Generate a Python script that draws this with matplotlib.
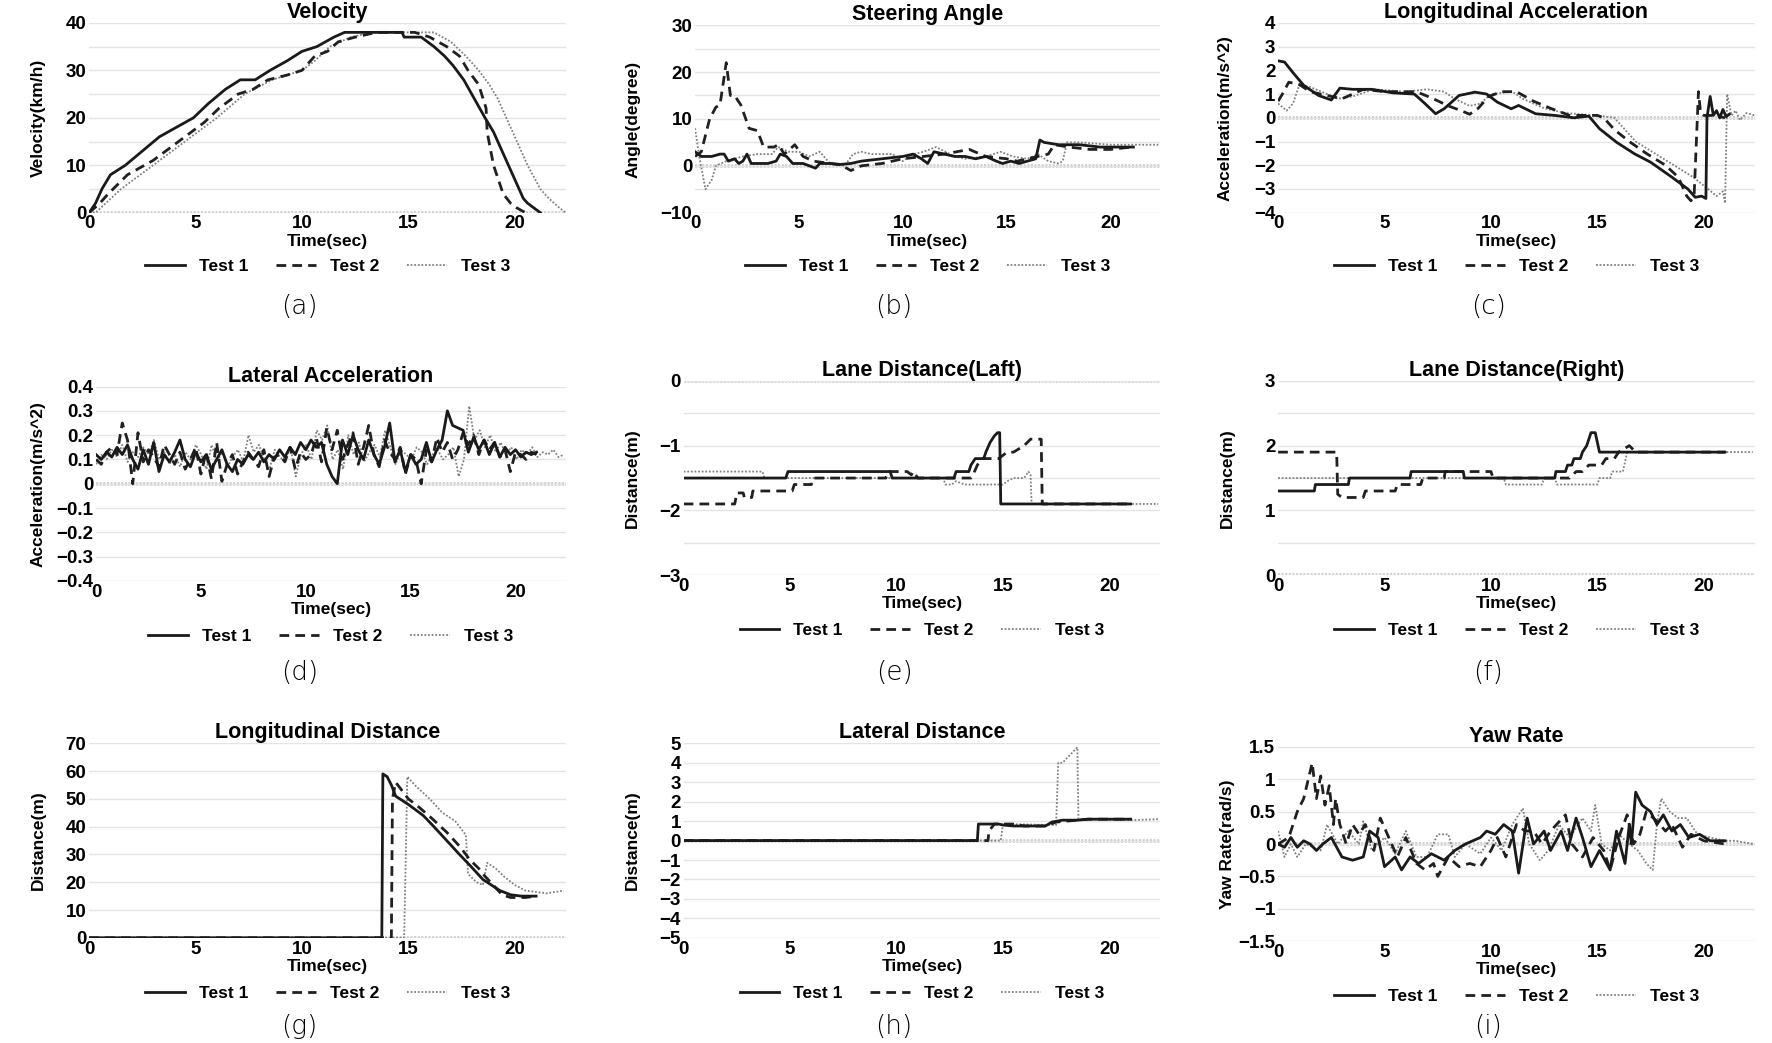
import matplotlib
matplotlib.use("Agg")
import matplotlib.pyplot as plt
import numpy as np
from matplotlib.ticker import MultipleLocator, FuncFormatter

plt.rcParams['font.family'] = ['Liberation Sans', 'DejaVu Sans']

# ---------------- data ----------------
# (a) Velocity
vel_t1_t = [0, 0.3, 0.6, 1.0, 1.7, 2.5, 3.3, 4.1, 4.9, 5.6, 6.4, 7.1, 7.8, 8.5, 9.3, 10.0, 10.7,
            11.5, 12.0, 14.7, 14.8, 15.6, 16.2, 16.7, 17.1, 17.6, 18.1, 18.6, 19.0, 19.4, 19.9,
            20.4, 20.6, 20.9, 21.2]
vel_t1 = [0, 2, 5, 8, 10, 13, 16, 18, 20, 23, 26, 28, 28, 30, 32, 34, 35, 37, 38, 38, 37, 37, 35,
          33, 31, 28, 24, 20, 17, 13, 8, 3, 2, 1, 0]
vel_t2_t = [0, 0.5, 0.9, 1.8, 3.0, 3.9, 4.8, 5.4, 6.1, 7.0, 7.7, 8.4, 9.3, 10.0, 10.6, 11.2, 11.7,
            12.5, 13.5, 15.3, 16.0, 16.8, 17.4, 17.8, 18.3, 18.65, 18.7, 19.0, 19.45, 19.8, 20.1, 20.5]
vel_t2 = [0, 2, 4, 8, 11, 14, 17, 19, 22, 25, 26, 28, 29, 30, 33, 34, 36, 37, 38, 38, 37, 35, 33,
          30, 27, 22, 17, 10, 4, 2, 1, 0]
vel_t3_t = [0, 0.3, 1.5, 3.0, 4.5, 6.0, 7.3, 8.6, 10.0, 10.6, 11.3, 12.3, 13.3, 16.2, 17.0, 17.7,
            18.3, 18.8, 19.2, 19.6, 20.1, 20.6, 21.2, 21.6, 22.1, 22.4]
vel_t3 = [0, 0, 5, 10, 15, 20, 25, 28, 30, 32, 35, 37, 38, 38, 36, 33, 30, 27, 24, 20, 15, 10, 5,
          3, 1, 0]

# (b) Steering angle
st_t1_t = [0, 0.3, 0.8, 1.2, 1.4, 1.6, 1.9, 2.1, 2.3, 2.5, 2.7, 3.5, 3.9, 4.1, 4.4, 4.7, 5.2, 5.5,
           5.8, 6.0, 6.5, 7.0, 7.5, 8.0, 9.0, 10.0, 10.5, 10.9, 11.2, 11.5, 12.0, 12.5, 13.0, 13.5,
           14.0, 14.5, 14.8, 15.2, 15.6, 16.0, 16.4, 16.6, 16.8, 17.5, 18.5, 19.5, 20.5, 21.1]
st_t1 = [3, 2, 2, 2.5, 2.5, 1, 1.5, 0.5, 1, 2.5, 0.5, 0.5, 1, 2.5, 2, 0.5, 0.5, 0, -0.5, 0.5,
         0.5, 0.3, 0.5, 1, 1.5, 2, 2.5, 1.5, 0.5, 3, 2.5, 2, 2, 1.5, 2, 1, 0.5, 1, 0.5, 1, 1.5,
         5.5, 5, 4.5, 4.5, 4, 4, 4]
st_t2_t = [0, 0.3, 0.7, 1.0, 1.2, 1.5, 1.7, 1.9, 2.2, 2.6, 3.0, 3.3, 3.8, 4.0, 4.3, 4.8, 5.2, 5.7,
           6.5, 7.0, 7.5, 8.0, 9.0, 9.5, 10.0, 11.0, 12.0, 13.2, 14.0, 15.0, 15.5, 16.5, 17.0,
           17.3, 18.0, 19.0, 20.0, 21.0]
st_t2 = [2, 3, 10, 12.5, 13, 22, 15, 15, 13, 8, 7.5, 4, 4, 4.5, 2.5, 4.5, 2, 1, 0.5, 0.2, -1, 0,
         0.5, 1, 1.5, 2, 2.5, 3.5, 2, 1.5, 1, 2, 2.5, 4.5, 4, 3.5, 3.5, 4]
st_t3_t = [0, 0.2, 0.5, 0.8, 1.0, 1.5, 2.3, 3.0, 3.7, 4.0, 4.5, 5.0, 5.5, 6.0, 6.5, 7.2, 7.6, 8.0,
           8.5, 9.5, 10.0, 10.5, 11.0, 11.6, 12.5, 13.0, 14.0, 14.7, 15.3, 16.0, 16.5, 17.0, 17.5,
           17.7, 17.9, 18.5, 20.0, 22.3]
st_t3 = [8, 2, -5, -3, 0, 1, 2, 2.5, 2.5, 4, 3, 3, 2, 3, 0.5, 0, 2.5, 3, 2.5, 2.5, 1, 2.5, 3, 4,
         2, 1.5, 2, 3, 2, 1.5, 2.5, 1, 0.5, 1, 5, 5, 4.5, 4.5]

# (c) Longitudinal acceleration
la_t1_t = [0, 0.3, 0.7, 1.2, 1.9, 2.5, 2.9, 3.5, 4.4, 5.4, 6.4, 6.9, 7.4, 7.8, 8.5, 9.25, 9.8,
           10.3, 10.95, 11.3, 12.1, 13.0, 13.9, 14.6, 15.1, 15.9, 16.75, 17.5, 18.5, 19.25, 19.6,
           19.9, 20.1, 20.15, 20.3, 20.45, 20.6, 20.75, 20.9, 21.05, 21.2]
la_t1 = [2.4, 2.35, 1.9, 1.37, 0.94, 0.75, 1.25, 1.2, 1.2, 1.05, 1.0, 0.6, 0.17, 0.38, 0.94, 1.08,
         1.0, 0.66, 0.38, 0.52, 0.17, 0.1, 0.0, 0.07, -0.46, -1.03, -1.52, -1.87, -2.5, -3.0,
         -3.35, -3.3, -3.4, 0.0, 0.9, 0.1, 0.3, 0.0, 0.35, 0.05, 0.15]
la_t2_t = [0, 0.2, 0.5, 1.0, 1.5, 2.5, 3.0, 3.5, 4.0, 5.0, 6.5, 7.3, 8.0, 8.6, 9.0, 9.4, 9.9, 10.5,
           11.2, 12.0, 12.8, 13.7, 15.0, 15.3, 15.8, 16.5, 17.3, 18.2, 18.8, 19.2, 19.4, 19.55,
           19.75, 19.85, 20.0, 20.5, 21.0]
la_t2 = [0.7, 1.0, 1.5, 1.4, 1.1, 0.9, 0.8, 1.0, 1.2, 1.1, 1.1, 0.8, 0.5, 0.3, 0.15, 0.4, 0.9, 1.1,
         1.1, 0.7, 0.4, 0.1, 0.1, 0.0, -0.5, -1.0, -1.5, -2.0, -2.5, -3.3, -3.5, -3.2, 1.1, 0.2,
         0.1, 0.1, 0.0]
la_t3_t = [0, 0.4, 0.7, 1.0, 1.5, 2.3, 2.8, 3.5, 4.5, 6.0, 7.0, 7.8, 8.3, 9.0, 9.5, 10.0, 11.0,
           11.5, 12.5, 13.5, 15.0, 15.8, 16.3, 16.8, 17.7, 18.6, 19.5, 20.2, 20.6, 20.9, 21.0, 21.1,
           21.3, 21.5, 21.7, 22.0, 22.4]
la_t3 = [0.6, 0.3, 0.6, 1.4, 1.3, 1.0, 0.8, 0.9, 1.2, 1.1, 1.2, 1.1, 0.8, 0.5, 0.6, 1.0, 1.1, 0.8,
         0.4, 0.2, 0.1, 0.0, -0.5, -1.0, -1.5, -2.0, -2.5, -3.0, -3.3, -3.1, -3.6, 1.0, 0.1, 0.3,
         -0.1, 0.2, 0.1]

# (d) Lateral acceleration (samples evenly spaced over each run)
lat_t1_end, lat_t2_end, lat_t3_end = 21.0, 21.0, 22.3
lat_t1 = [0.12, 0.10, 0.13, 0.11, 0.15, 0.12, 0.16, 0.10, 0.06, 0.14, 0.08, 0.17, 0.05, 0.12, 0.09,
          0.13, 0.18, 0.10, 0.07, 0.13, 0.09, 0.12, 0.06, 0.10, 0.14, 0.08, 0.05, 0.10, 0.08, 0.12,
          0.10, 0.13, 0.09, 0.12, 0.10, 0.14, 0.11, 0.15, 0.12, 0.17, 0.14, 0.18, 0.15, 0.17, 0.08,
          0.03, 0.00, 0.18, 0.12, 0.20, 0.14, 0.10, 0.18, 0.12, 0.08, 0.15, 0.25, 0.09, 0.14, 0.05,
          0.12, 0.08, 0.10, 0.17, 0.09, 0.14, 0.18, 0.30, 0.24, 0.23, 0.22, 0.13, 0.19, 0.14, 0.18,
          0.12, 0.17, 0.11, 0.15, 0.12, 0.14, 0.11, 0.13, 0.12, 0.13]
lat_t2 = [0.10, 0.08, 0.13, 0.15, 0.12, 0.25, 0.18, 0.00, 0.21, 0.09, 0.14, 0.11, 0.07, 0.16, 0.12,
          0.08, 0.13, 0.06, 0.10, 0.15, 0.04, 0.13, 0.02, 0.17, 0.01, 0.08, 0.12, 0.04, 0.09, 0.13,
          0.10, 0.07, 0.14, 0.03, 0.11, 0.12, 0.09, 0.15, 0.06, 0.13, 0.10, 0.12, 0.19, 0.09, 0.23,
          0.14, 0.22, 0.10, 0.16, 0.21, 0.08, 0.15, 0.24, 0.12, 0.07, 0.18, 0.13, 0.10, 0.15, 0.04,
          0.12, 0.10, 0.00, 0.14, 0.09, 0.19, 0.13, 0.17, 0.10, 0.14, 0.21, 0.16, 0.20, 0.12, 0.18,
          0.14, 0.17, 0.11, 0.14, 0.05, 0.13, 0.12, 0.10, 0.13, 0.12]
lat_t3 = [0.08, 0.12, 0.10, 0.14, 0.11, 0.16, 0.09, 0.13, 0.11, 0.15, 0.12, 0.18, 0.10, 0.13, 0.08,
          0.12, 0.07, 0.13, 0.10, 0.16, 0.12, 0.06, 0.16, 0.09, 0.13, 0.07, 0.11, 0.14, 0.09, 0.20,
          0.13, 0.16, 0.10, 0.06, 0.14, 0.11, 0.09, 0.15, 0.03, 0.12, 0.16, 0.10, 0.22, 0.18, 0.24,
          0.10, 0.14, 0.06, 0.20, 0.12, 0.17, 0.09, 0.13, 0.16, 0.11, 0.22, 0.15, 0.08, 0.14, 0.12,
          0.10, 0.15, 0.13, 0.08, 0.12, 0.14, 0.10, 0.12, 0.15, 0.03, 0.10, 0.32, 0.18, 0.22, 0.15,
          0.20, 0.13, 0.17, 0.12, 0.15, 0.10, 0.14, 0.12, 0.15, 0.11, 0.13, 0.12, 0.14, 0.11, 0.12]

# (e) Lane distance (left)
ll_t1_t = [0, 4.8, 4.9, 9.7, 9.8, 12.7, 12.8, 13.4, 13.5, 13.7, 14.1, 14.2, 14.4, 14.6, 14.75,
           14.85, 14.9, 21.0]
ll_t1 = [-1.5, -1.5, -1.4, -1.4, -1.5, -1.5, -1.4, -1.4, -1.3, -1.2, -1.2, -1.1, -0.95, -0.85,
         -0.8, -0.8, -1.9, -1.9]
ll_t2_t = [0, 2.4, 2.5, 2.8, 2.85, 3.2, 3.25, 5.1, 5.2, 6.0, 6.1, 9.5, 9.6, 10.5, 10.7, 10.8, 11.0,
           13.5, 13.6, 13.8, 14.0, 14.8, 15.2, 15.5, 16.0, 16.3, 16.8, 16.85, 21.0]
ll_t2 = [-1.9, -1.9, -1.73, -1.73, -1.8, -1.8, -1.7, -1.7, -1.6, -1.6, -1.5, -1.5, -1.4, -1.4,
         -1.45, -1.4, -1.5, -1.5, -1.45, -1.3, -1.2, -1.2, -1.1, -1.1, -1.0, -0.9, -0.9, -1.9, -1.9]
ll_t3_t = [0, 3.7, 3.8, 12.2, 12.3, 12.6, 12.8, 13.2, 15.0, 15.2, 15.5, 16.0, 16.2, 16.3, 16.35,
           22.3]
ll_t3 = [-1.4, -1.4, -1.5, -1.5, -1.6, -1.6, -1.55, -1.6, -1.6, -1.55, -1.5, -1.5, -1.4, -1.45,
         -1.9, -1.9]

# (f) Lane distance (right)
rl_t1_t = [0, 1.7, 1.75, 3.3, 3.35, 6.2, 6.25, 8.7, 8.75, 13.0, 13.05, 13.5, 13.6, 13.8, 13.9,
           14.2, 14.3, 14.5, 14.7, 14.9, 15.1, 21.0]
rl_t1 = [1.3, 1.3, 1.4, 1.4, 1.5, 1.5, 1.6, 1.6, 1.5, 1.5, 1.6, 1.6, 1.7, 1.7, 1.8, 1.8, 1.9, 2.0,
         2.2, 2.2, 1.9, 1.9]
rl_t2_t = [0, 2.75, 2.8, 3.0, 4.0, 4.1, 5.5, 5.6, 6.7, 6.8, 7.8, 7.85, 10.0, 10.1, 13.7, 14.0,
           14.3, 14.6, 15.2, 15.4, 15.8, 16.0, 16.5, 16.8, 21.0]
rl_t2 = [1.9, 1.9, 1.25, 1.2, 1.2, 1.3, 1.3, 1.4, 1.4, 1.5, 1.5, 1.6, 1.6, 1.5, 1.5, 1.6, 1.6, 1.7,
         1.7, 1.8, 1.8, 1.9, 2.0, 1.9, 1.9]
rl_t3_t = [0, 10.6, 10.7, 12.4, 12.5, 13.0, 13.1, 15.0, 15.1, 15.6, 15.7, 16.2, 16.4, 16.5, 22.3]
rl_t3 = [1.5, 1.5, 1.4, 1.4, 1.5, 1.5, 1.4, 1.4, 1.5, 1.5, 1.6, 1.6, 1.9, 1.9, 1.9]

# (g) Longitudinal distance
ld_t1_t = [0, 13.75, 13.8, 14.0, 14.2, 14.4, 15.0, 15.7, 16.2, 16.8, 17.4, 17.9, 18.5, 18.9, 19.3,
           19.8, 20.3, 21.0]
ld_t1 = [0, 0, 59, 58, 55, 51, 48, 44, 40, 35, 30, 26, 21, 19, 17, 15.5, 15, 15]
ld_t2_t = [0, 14.2, 14.25, 14.4, 14.8, 15.0, 15.5, 16.1, 16.8, 17.4, 17.9, 18.3, 18.5, 19.1, 19.4,
           19.8, 20.5, 21.0]
ld_t2 = [0, 0, 50, 56, 52, 50, 47, 43, 38, 33, 28, 25, 23, 18, 15.5, 14.5, 14.5, 15]
ld_t3_t = [0, 14.8, 14.95, 15.3, 16.0, 16.6, 17.2, 17.7, 17.8, 18.2, 18.5, 18.7, 19.1, 19.5, 20.0,
           20.5, 21.0, 21.5, 22.3]
ld_t3 = [0, 0, 58, 55, 50, 45, 42, 37, 23, 20, 19, 27, 25, 22, 19, 17, 16.5, 16, 17]

# (h) Lateral distance
lt_t1_t = [0, 13.8, 13.85, 14.8, 15.0, 15.5, 17.0, 17.3, 17.8, 18.5, 19.0, 21.0]
lt_t1 = [0, 0, 0.85, 0.85, 0.8, 0.75, 0.75, 0.95, 1.05, 1.05, 1.1, 1.1]
lt_t2_t = [0, 14.3, 14.35, 14.6, 15.5, 16.0, 17.0, 17.5, 18.0, 19.0, 21.0]
lt_t2 = [0, 0, 0.5, 0.85, 0.85, 0.75, 0.75, 0.95, 1.0, 1.1, 1.1]
lt_t3_t = [0, 14.9, 15.0, 17.5, 17.6, 17.8, 18.5, 18.55, 19.0, 21.0, 22.3]
lt_t3 = [0, 0, 0.85, 0.8, 4.0, 4.0, 4.8, 1.1, 1.1, 1.05, 1.1]

# (i) Yaw rate
yr_t1_t = [0, 0.3, 0.6, 0.9, 1.2, 1.5, 1.8, 2.1, 2.5, 3.0, 3.5, 4.0, 4.3, 4.7, 5.0, 5.5, 5.8, 6.2,
           6.6, 7.2, 7.8, 8.3, 8.8, 9.5, 9.8, 10.2, 10.6, 11.0, 11.3, 11.6, 11.7, 12.0, 12.5, 12.8,
           13.3, 13.6, 14.0, 14.3, 14.7, 15.1, 15.6, 15.9, 16.3, 16.5, 16.6, 16.8, 17.1, 17.5, 17.8,
           18.1, 18.5, 18.9, 19.3, 19.8, 20.3, 21.0]
yr_t1 = [0.0, -0.05, 0.1, -0.05, 0.05, 0.0, -0.1, 0.0, 0.1, -0.2, -0.25, -0.2, 0.2, 0.1, -0.35,
         -0.2, -0.4, -0.2, -0.3, -0.15, -0.25, -0.1, 0.0, 0.1, 0.2, 0.15, 0.3, 0.2, -0.45, 0.2,
         0.4, 0.0, 0.2, -0.1, 0.2, -0.1, 0.4, 0.1, -0.35, -0.1, -0.4, 0.2, -0.3, 0.3, 0.0, 0.8,
         0.6, 0.5, 0.3, 0.45, 0.2, 0.3, 0.1, 0.15, 0.05, 0.05]
yr_t2_t = [0, 0.5, 0.9, 1.2, 1.6, 1.8, 2.0, 2.2, 2.4, 2.6, 2.7, 2.9, 3.2, 3.5, 3.8, 4.1, 4.5, 4.8,
           5.2, 5.6, 6.0, 6.5, 6.9, 7.3, 7.5, 8.0, 8.5, 9.0, 9.5, 10.0, 10.3, 10.7, 11.2, 11.6,
           12.0, 12.4, 12.8, 13.5, 13.8, 14.3, 14.8, 15.3, 15.6, 16.0, 16.4, 16.7, 17.0, 17.3,
           17.8, 18.2, 18.5, 19.0, 19.4, 20.0, 21.0]
yr_t2 = [0.0, 0.1, 0.5, 0.7, 1.25, 0.7, 1.05, 0.6, 0.9, 0.3, 0.7, 0.3, 0.0, 0.3, 0.15, 0.3, -0.1,
         0.4, 0.1, -0.2, 0.1, -0.3, -0.4, -0.3, -0.5, -0.2, -0.35, -0.3, -0.35, -0.1, 0.1, -0.2,
         0.3, 0.2, 0.2, 0.0, 0.2, 0.45, 0.0, -0.2, 0.1, -0.1, -0.4, 0.1, 0.45, 0.0, 0.15, 0.5,
         0.35, 0.2, 0.3, -0.05, 0.15, 0.05, 0.0]
yr_t3_t = [0, 0.3, 0.6, 0.9, 1.3, 2.0, 2.3, 2.8, 3.3, 3.8, 4.0, 4.4, 5.0, 5.5, 6.0, 6.5, 7.0, 7.5,
           8.0, 8.3, 8.8, 9.5, 10.0, 10.5, 11.0, 11.5, 11.8, 12.3, 12.7, 13.2, 13.7, 14.3, 14.7,
           14.9, 15.2, 15.6, 16.0, 16.5, 16.9, 17.3, 17.6, 17.8, 18.0, 18.4, 18.8, 19.2, 19.7,
           20.3, 21.0, 21.5, 22.3]
yr_t3 = [0.2, -0.2, 0.0, -0.2, 0.0, -0.1, 0.3, 0.0, 0.2, 0.0, 0.35, -0.1, 0.1, -0.15, 0.2, -0.2,
         -0.2, 0.15, 0.15, -0.2, 0.0, -0.15, 0.1, -0.1, 0.3, 0.55, 0.0, -0.25, -0.1, 0.3, 0.1, 0.4,
         0.2, 0.6, 0.0, -0.1, 0.15, 0.0, -0.1, -0.3, -0.4, 0.3, 0.7, 0.5, 0.4, 0.4, 0.15, 0.1,
         0.05, 0.05, 0.0]

legend_labels = ['Test 1', 'Test 2', 'Test 3']
x_label = 'Time(sec)'

# ---------------- figure ----------------
fig = plt.figure(figsize=(17.72, 10.43), dpi=100)
W, H = 1550.0, 912.0


def add_ax(x0, x1, y0, y1):
    return fig.add_axes([x0 / W, 1 - y1 / H, (x1 - x0) / W, (y1 - y0) / H])


def fmt(v, pos):
    return '{:g}'.format(round(v, 3)).replace('-', '\u2212')


def style(ax, title, ylabel, ylim, major, minor, label_x=-0.091):
    ax.set_xlim(0, 22.4)
    ax.set_ylim(*ylim)
    ax.set_xticks([0, 5, 10, 15, 20])
    ax.yaxis.set_major_locator(MultipleLocator(major))
    ax.yaxis.set_minor_locator(MultipleLocator(minor))
    ax.yaxis.set_major_formatter(FuncFormatter(fmt))
    ax.grid(axis='y', which='both', color='#e4e4e4', lw=1.0, zorder=0)
    ax.axhline(0, color='#cccccc', lw=2.6, ls=(0, (0.6, 0.4)), zorder=1)
    for s in ax.spines.values():
        s.set_visible(False)
    ax.tick_params(which='both', length=0, labelsize=13.5, pad=2)
    for lab in ax.get_xticklabels() + ax.get_yticklabels():
        lab.set_fontweight('bold')
    ax.set_title(title, fontsize=15.5, fontweight='bold', pad=3)
    ax.set_ylabel(ylabel, fontsize=12.5, fontweight='bold')
    ax.yaxis.set_label_coords(label_x, 0.5)
    ax.set_xlabel(x_label, fontsize=12.5, fontweight='bold', labelpad=1)
    ax.legend(legend_labels, loc='center', bbox_to_anchor=(0.5, -0.285), ncol=3,
              frameon=False, handlelength=2.3, handletextpad=0.8, columnspacing=1.6,
              prop={'weight': 'bold', 'size': 12.5})


def draw(ax, s1, s2, s3):
    ax.plot(s1[0], s1[1], color='#1a1a1a', lw=2.0, ls='-', zorder=4)
    ax.plot(s2[0], s2[1], color='#202020', lw=2.0, ls=(0, (3.5, 2.2)), zorder=3)
    ax.plot(s3[0], s3[1], color='#808080', lw=1.3, ls=(0, (1, 1)), zorder=2)


def even(end, vals):
    return np.linspace(0, end, len(vals))


panels = [
    ((78, 495, 20, 186), 'Velocity', 'Velocity(km/h)', (0, 40), 10, 5,
     (vel_t1_t, vel_t1), (vel_t2_t, vel_t2), (vel_t3_t, vel_t3), -0.091, (262, 268), '(a)'),
    ((608, 1015, 22, 186), 'Steering Angle', 'Angle(degree)', (-10, 30), 10, 5,
     (st_t1_t, st_t1), (st_t2_t, st_t2), (st_t3_t, st_t3), -0.118, (782, 268), '(b)'),
    ((1118, 1535, 20, 186), 'Longitudinal Acceleration', 'Acceleration(m/s^2)', (-4, 4), 1, 1,
     (la_t1_t, la_t1), (la_t2_t, la_t2), (la_t3_t, la_t3), -0.096, (1302, 268), '(c)'),
    ((84, 495, 338, 508), 'Lateral Acceleration', 'Acceleration(m/s^2)', (-0.4, 0.4), 0.1, 0.1,
     (even(lat_t1_end, lat_t1), lat_t1), (even(lat_t2_end, lat_t2), lat_t2),
     (even(lat_t3_end, lat_t3), lat_t3), -0.107, (262, 588), '(d)'),
    ((598, 1015, 333, 503), 'Lane Distance(Laft)', 'Distance(m)', (-3, 0), 1, 0.5,
     (ll_t1_t, ll_t1), (ll_t2_t, ll_t2), (ll_t3_t, ll_t3), -0.091, (782, 588), '(e)'),
    ((1118, 1535, 333, 503), 'Lane Distance(Right)', 'Distance(m)', (0, 3), 1, 0.5,
     (rl_t1_t, rl_t1), (rl_t2_t, rl_t2), (rl_t3_t, rl_t3), -0.091, (1302, 588), '(f)'),
    ((78, 495, 650, 820), 'Longitudinal Distance', 'Distance(m)', (0, 70), 10, 10,
     (ld_t1_t, ld_t1), (ld_t2_t, ld_t2), (ld_t3_t, ld_t3), -0.091, (262, 898), '(g)'),
    ((598, 1015, 650, 820), 'Lateral Distance', 'Distance(m)', (-5, 5), 1, 1,
     (lt_t1_t, lt_t1), (lt_t2_t, lt_t2), (lt_t3_t, lt_t3), -0.091, (782, 898), '(h)'),
    ((1118, 1535, 653, 823), 'Yaw Rate', 'Yaw Rate(rad/s)', (-1.5, 1.5), 0.5, 0.5,
     (yr_t1_t, yr_t1), (yr_t2_t, yr_t2), (yr_t3_t, yr_t3), -0.091, (1302, 898), '(i)'),
]

for box, title, ylab, ylim, major, minor, s1, s2, s3, lx, lpos, tag in panels:
    ax = add_ax(*box)
    draw(ax, s1, s2, s3)
    style(ax, title, ylab, ylim, major, minor, lx)
    fig.text(lpos[0] / W, 1 - lpos[1] / H, tag, ha='center', va='center', fontsize=19,
             family=['DejaVu Sans'], fontweight='light')

fig.savefig('out.png', dpi=100, facecolor='white')
